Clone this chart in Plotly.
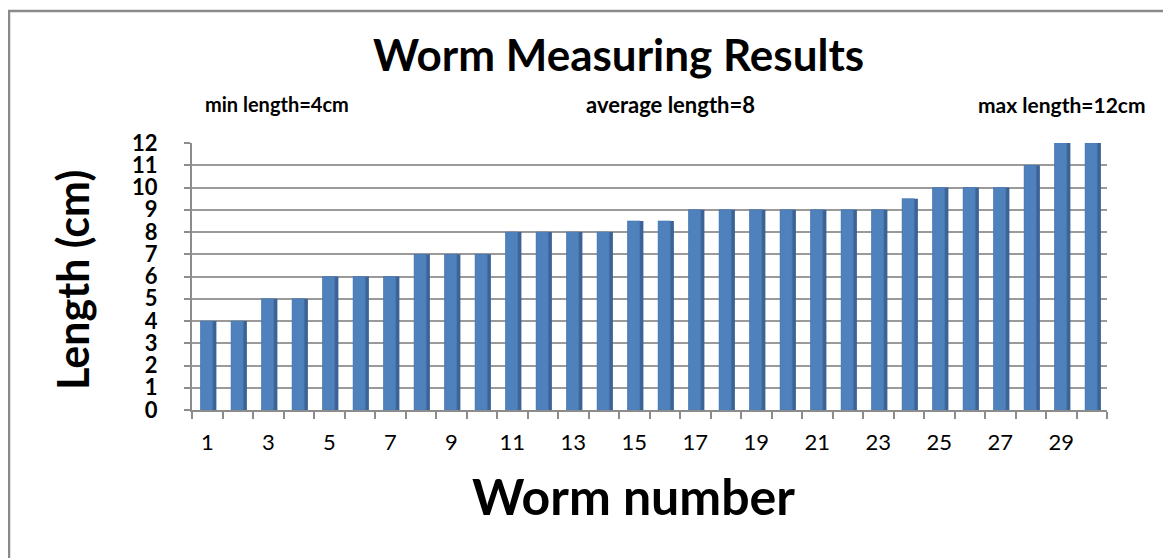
import plotly.graph_objects as go

worm_numbers = list(range(1, 31))
lengths_cm = [4, 4, 5, 5, 6, 6, 6, 7, 7, 7,
              8, 8, 8, 8, 8.5, 8.5, 9, 9, 9, 9,
              9, 9, 9, 9.5, 10, 10, 10, 11, 12, 12]
x_tick_values = list(range(1, 31, 2))
x_tick_labels = [str(n) for n in x_tick_values]
y_ticks = list(range(0, 13))

title_text = "Worm Measuring Results"
note_min = "min length=4cm"
note_avg = "average length=8"
note_max = "max length=12cm"
x_title = "Worm number"
y_title = "Length (cm)"

# the page body has an 8px default margin, so the figure starts at (8, 8)
OFF = 8
W, H = 1171 - OFF, 558 - OFF
L, T = 192 - OFF, 143 - OFF
R = W - (1107 - OFF)
B = H - (410 - OFF)
PW, PH = W - L - R, H - T - B


def px(xp):
    return (xp - OFF - L) / PW


def py(yp):
    return (H - B - (yp - OFF)) / PH


FONT = "Lato, Carlito, Calibri, sans-serif"

fig = go.Figure()
# dark side of the 3D-looking column
fig.add_trace(go.Bar(
    x=worm_numbers, y=lengths_cm, width=0.52, offset=-0.22,
    marker=dict(color="#3B6396", line=dict(width=0)),
    hoverinfo="skip", showlegend=False))
# front face
fig.add_trace(go.Bar(
    x=worm_numbers, y=lengths_cm, width=0.40, offset=-0.22,
    marker=dict(color="#4F81BD", line=dict(color="#4A78B0", width=0.5)),
    showlegend=False))

fig.update_layout(
    width=W, height=H,
    margin=dict(l=L, r=R, t=T, b=B, autoexpand=False),
    paper_bgcolor="white", plot_bgcolor="white",
    barmode="overlay",
    font=dict(family=FONT, color="black"),
    xaxis=dict(
        range=[0.5, 30.5],
        tickmode="array",
        tickvals=x_tick_values,
        ticktext=x_tick_labels,
        ticks="", showgrid=False, zeroline=False,
        showline=True, linecolor="#8c8c8c", linewidth=2,
        tickfont=dict(size=22, family=FONT, color="black"),
        ticklabelstandoff=12,
        minor=dict(ticks="outside", tick0=0.5, dtick=1, ticklen=7,
                   tickcolor="#8c8c8c", tickwidth=1.5, showgrid=False),
        fixedrange=True,
    ),
    yaxis=dict(
        range=[0, 12],
        tickmode="array", tickvals=y_ticks,
        ticks="outside", ticklen=6, tickcolor="#8c8c8c", tickwidth=1.5,
        showgrid=True, gridcolor="#9a9a9a", gridwidth=1.5,
        zeroline=False,
        showline=True, linecolor="#8c8c8c", linewidth=2,
        tickfont=dict(size=22, family=FONT, color="black", weight="bold"),
        ticklabelstandoff=22,
        fixedrange=True,
    ),
    shapes=[dict(type="rect", xref="paper", yref="paper",
                 x0=px(9), x1=px(1190), y0=py(575), y1=py(11),
                 line=dict(color="#8a8a8a", width=2.5), layer="below")],
    annotations=[
        dict(text=f"<b>{title_text}</b>", x=px(618), y=py(54), xref="paper", yref="paper",
             showarrow=False, font=dict(size=44, family=FONT), xanchor="center", yanchor="middle"),
        dict(text=f"<b>{note_min}</b>", x=px(203), y=py(104), xref="paper", yref="paper",
             showarrow=False, font=dict(size=20, family=FONT), xanchor="left", yanchor="middle"),
        dict(text=f"<b>{note_avg}</b>", x=px(670), y=py(104), xref="paper", yref="paper",
             showarrow=False, font=dict(size=22, family=FONT), xanchor="center", yanchor="middle"),
        dict(text=f"<b>{note_max}</b>", x=px(1148), y=py(104), xref="paper", yref="paper",
             showarrow=False, font=dict(size=21, family=FONT), xanchor="right", yanchor="middle"),
        dict(text=f"<b>{x_title}</b>", x=px(633), y=py(496), xref="paper", yref="paper",
             showarrow=False, font=dict(size=50, family=FONT), xanchor="center", yanchor="middle"),
        dict(text=f"<b>{y_title}</b>", x=px(72), y=py(280), xref="paper", yref="paper",
             showarrow=False, font=dict(size=43, family=FONT), textangle=-90,
             xanchor="center", yanchor="middle"),
    ],
)

fig.write_html("out.html")
